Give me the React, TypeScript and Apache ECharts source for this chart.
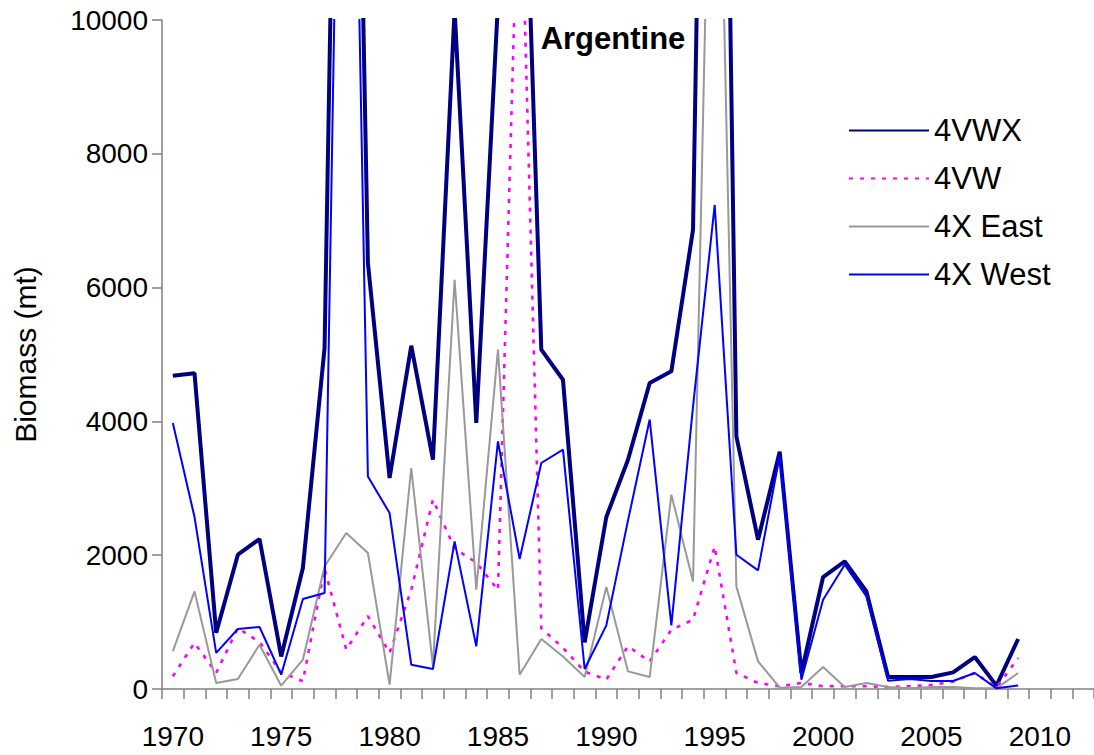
import React, { useEffect, useRef } from "react";
import * as echarts from "echarts";

const years: string[] = [];
for (let y = 1970; y <= 2012; y++) years.push(String(y));

const v4VWX = [4683, 4720, 840, 2008, 2242, 487, 1808, 5097, 23500, 6367, 3154, 5131, 3427, 10150, 3976, 10250, 15100, 5072, 4623, 697, 2571, 3427, 4574, 4748, 6866, 26000, 3776, 2232, 3547, 239, 1674, 1907, 1459, 179, 179, 179, 249, 478, 50, 747];
const v4VW = [190, 690, 240, 910, 700, 250, 115, 1800, 590, 1090, 540, 1480, 2830, 2100, 1890, 1480, 12900, 910, 615, 260, 140, 640, 410, 885, 1035, 2130, 240, 90, 40, 90, 40, 40, 40, 30, 40, 60, 110, 240, 20, 463];
const v4XEast = [562, 1459, 90, 149, 662, 49, 438, 1830, 2332, 2033, 65, 3303, 338, 6118, 1484, 5072, 214, 747, 487, 179, 1525, 263, 179, 2904, 1608, 16600, 1534, 413, 20, 30, 329, 30, 90, 30, 10, 30, 30, 10, 10, 239];
const v4XWest = [3976, 2570, 540, 897, 927, 214, 1345, 1435, 20600, 3178, 2630, 363, 299, 2207, 637, 3700, 1943, 3378, 3577, 299, 951, 2520, 4028, 951, 4220, 7235, 2007, 1773, 3490, 139, 1335, 1858, 1384, 124, 149, 119, 119, 239, 10, 54];

const FONT = "'Liberation Sans', Arial, sans-serif";

export default function App() {
  const ref = useRef<HTMLDivElement>(null);
  useEffect(() => {
    if (!ref.current) return;
    const chart = echarts.init(ref.current, undefined, { renderer: "svg" });
    const axisColor = "#808080";
    chart.setOption({
      animation: false,
      backgroundColor: "#ffffff",
      textStyle: { fontFamily: FONT },
      grid: { left: 162, top: 20, width: 932, height: 669, containLabel: false },
      graphic: [
        {
          type: "text",
          x: 613,
          y: 38.5,
          style: {
            text: "Argentine",
            font: `bold 31px ${FONT}`,
            fill: "#000",
            align: "center",
            verticalAlign: "middle",
          },
        },
      ],
      legend: {
        orient: "vertical",
        left: 848,
        top: 115,
        padding: 0,
        itemWidth: 80,
        itemHeight: 14,
        itemGap: 17,
        itemStyle: { opacity: 0 },
        textStyle: { fontSize: 31, fontFamily: FONT, color: "#000" },
        data: ["4VWX", "4VW", "4X East", "4X West"],
      },
      xAxis: {
        type: "category",
        data: years,
        boundaryGap: true,
        axisLine: { lineStyle: { color: axisColor, width: 1.5 } },
        axisTick: { show: true, interval: 0, length: 10, lineStyle: { color: axisColor, width: 1.5 } },
        axisLabel: { interval: 4, fontSize: 28, fontFamily: FONT, color: "#000", margin: 33 },
        splitLine: { show: false },
      },
      yAxis: {
        type: "value",
        min: 0,
        max: 10000,
        interval: 2000,
        name: "Biomass (mt)",
        nameLocation: "middle",
        nameGap: 122,
        nameTextStyle: { fontSize: 30, fontFamily: FONT, color: "#000" },
        axisLine: { show: true, lineStyle: { color: axisColor, width: 1.5 } },
        axisTick: { show: true, length: 10, lineStyle: { color: axisColor, width: 1.5 } },
        axisLabel: {
          fontSize: 28,
          fontFamily: FONT,
          color: "#000",
          margin: 14,
          formatter: (v: number) => String(v),
        },
        splitLine: { show: false },
      },
      series: [
        {
          name: "4VWX",
          type: "line",
          data: v4VWX,
          symbol: "none",
          clip: true,
          lineStyle: { color: "#000080", width: 4 },
          itemStyle: { color: "#000080" },
        },
        {
          name: "4VW",
          type: "line",
          data: v4VW,
          symbol: "none",
          clip: true,
          lineStyle: { color: "#FF00FF", width: 2.6, type: [4, 7] },
          itemStyle: { color: "#FF00FF" },
        },
        {
          name: "4X East",
          type: "line",
          data: v4XEast,
          symbol: "none",
          clip: true,
          lineStyle: { color: "#999999", width: 2 },
          itemStyle: { color: "#999999" },
        },
        {
          name: "4X West",
          type: "line",
          data: v4XWest,
          symbol: "none",
          clip: true,
          lineStyle: { color: "#0000FF", width: 2 },
          itemStyle: { color: "#0000FF" },
        },
      ],
    });
    return () => chart.dispose();
  }, []);
  return (
    <div
      ref={ref}
      style={{ position: "absolute", left: 0, top: 0, width: 1094, height: 755 }}
    />
  );
}
